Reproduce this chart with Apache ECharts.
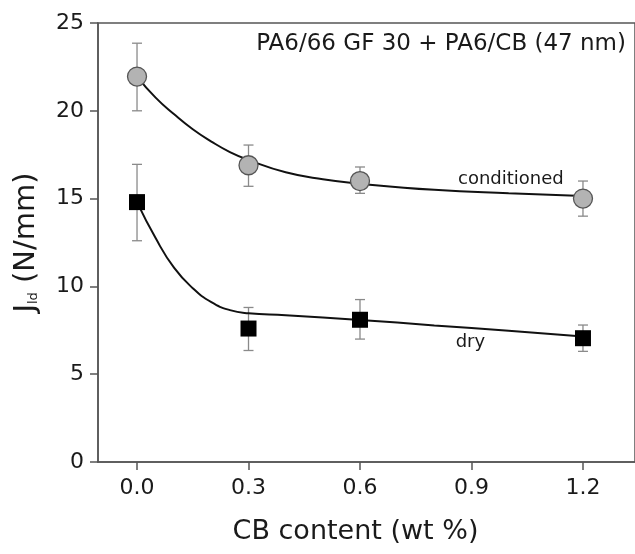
<!DOCTYPE html>
<html>
<head>
<meta charset="utf-8">
<script src="https://cdn.jsdelivr.net/npm/echarts@6/dist/echarts.min.js"></script>
<style>
    html, body { margin: 0; padding: 0; background: #fff; }
    #chart { width: 635px; height: 554px; }
</style>
</head>
<body>
<div id="chart"></div>
<script>
    // measured points
    var cbContent = [0, 0.3, 0.6, 1.2];
    var condValues = [21.95, 16.9, 16.0, 15.0];
    var condErrLow = [20.0, 15.7, 15.3, 14.0];
    var condErrHigh = [23.85, 18.05, 16.8, 16.0];
    var dryValues = [14.8, 7.6, 8.1, 7.05];
    var dryErrLow = [12.6, 6.35, 7.0, 6.3];
    var dryErrHigh = [16.95, 8.8, 9.25, 7.8];

    // fitted curves
    var condFitX = [0, 0.05, 0.1, 0.15, 0.2, 0.25, 0.3, 0.4, 0.5, 0.6, 0.8, 1.0, 1.2];
    var condFitY = [21.95, 20.75, 19.8, 18.95, 18.25, 17.65, 17.2, 16.5, 16.1, 15.85, 15.5, 15.3, 15.15];
    var dryFitX = [0, 0.05, 0.1, 0.15, 0.2, 0.25, 0.3, 0.4, 0.6, 0.8, 1.0, 1.2];
    var dryFitY = [14.8, 12.75, 11.05, 9.9, 9.1, 8.65, 8.47, 8.36, 8.09, 7.78, 7.47, 7.14];

    var xTicks = [0, 0.3, 0.6, 0.9, 1.2];
    var titleText = 'PA6/66 GF 30 + PA6/CB (47 nm)';
    var curveLabels = [
        { name: 'conditioned', value: [1.006, 16.1] },
        { name: 'dry', value: [0.897, 6.83] }
    ];

    var font = 'DejaVu Sans';
    var ink = '#1a1a1a';

    function zip(a, b) {
        return a.map(function (v, i) { return [v, b[i]]; });
    }
    function errData(lo, hi) {
        return cbContent.map(function (x, i) { return [x, lo[i], hi[i]]; });
    }
    function renderErr(params, api) {
        var x = api.value(0);
        var lo = api.coord([x, api.value(1)]);
        var hi = api.coord([x, api.value(2)]);
        var w = 5;
        var style = { stroke: '#8a8a8a', lineWidth: 1.3 };
        return {
            type: 'group',
            children: [
                { type: 'line', shape: { x1: lo[0], y1: lo[1], x2: hi[0], y2: hi[1] }, style: style },
                { type: 'line', shape: { x1: lo[0] - w, y1: lo[1], x2: lo[0] + w, y2: lo[1] }, style: style },
                { type: 'line', shape: { x1: hi[0] - w, y1: hi[1], x2: hi[0] + w, y2: hi[1] }, style: style }
            ]
        };
    }

    var chart = echarts.init(document.getElementById('chart'));
    chart.setOption({
        animation: false,
        textStyle: { fontFamily: font },
        title: {
            text: titleText,
            right: 4,
            top: 28,
            textStyle: { fontFamily: font, fontSize: 23, fontWeight: 'normal', color: ink }
        },
        grid: {
            left: 98, top: 23, bottom: 92, right: -7,
            show: true, borderColor: '#555', borderWidth: 1.5
        },
        xAxis: {
            type: 'value',
            min: -0.105,
            max: 1.34,
            name: 'CB content (wt %)',
            nameLocation: 'middle',
            nameGap: 56,
            nameTextStyle: { fontFamily: font, fontSize: 27, color: ink, padding: [0, 22, 0, 0] },
            splitLine: { show: false },
            axisLine: { onZero: false, lineStyle: { color: '#555', width: 1.5 } },
            axisTick: { show: true, length: 8, lineStyle: { color: '#555', width: 1.5 }, customValues: xTicks },
            axisLabel: {
                fontFamily: font, fontSize: 22, color: ink, margin: 15,
                customValues: xTicks,
                formatter: function (v) { return v.toFixed(1); }
            }
        },
        yAxis: {
            type: 'value',
            min: 0,
            max: 25,
            interval: 5,
            name: 'J{sub|ld} (N/mm)',
            nameLocation: 'middle',
            nameGap: 57,
            nameRotate: 90,
            nameTextStyle: {
                fontFamily: font, fontSize: 29, color: ink,
                rich: { sub: { fontFamily: font, fontSize: 13, color: ink, padding: [14, 0, 0, 0] } }
            },
            splitLine: { show: false },
            axisLine: { onZero: false, lineStyle: { color: '#555', width: 1.5 } },
            axisTick: { show: true, length: 8, lineStyle: { color: '#555', width: 1.5 } },
            axisLabel: { fontFamily: font, fontSize: 22, color: ink, margin: 14 }
        },
        series: [
            {
                name: 'cond fit', type: 'line', data: zip(condFitX, condFitY),
                smooth: 0.5, showSymbol: false, z: 2,
                lineStyle: { color: '#111', width: 2 }
            },
            {
                name: 'dry fit', type: 'line', data: zip(dryFitX, dryFitY),
                smooth: 0.5, showSymbol: false, z: 2,
                lineStyle: { color: '#111', width: 2 }
            },
            { name: 'cond err', type: 'custom', renderItem: renderErr, data: errData(condErrLow, condErrHigh), z: 1 },
            { name: 'dry err', type: 'custom', renderItem: renderErr, data: errData(dryErrLow, dryErrHigh), z: 1 },
            {
                name: 'conditioned', type: 'scatter', data: zip(cbContent, condValues),
                symbol: 'circle', symbolSize: 19, z: 3,
                itemStyle: { color: '#b3b3b3', borderColor: '#555', borderWidth: 1.3, opacity: 1 }
            },
            {
                name: 'dry', type: 'scatter', data: zip(cbContent, dryValues),
                symbol: 'rect', symbolSize: 16, z: 3,
                itemStyle: { color: '#000', opacity: 1 }
            },
            {
                name: 'labels', type: 'scatter', data: curveLabels,
                symbolSize: 0, silent: true, z: 4,
                itemStyle: { opacity: 1 },
                label: {
                    show: true, position: 'inside', formatter: '{b}',
                    fontFamily: font, fontSize: 18, color: ink, opacity: 1
                }
            }
        ]
    });
</script>
</body>
</html>
